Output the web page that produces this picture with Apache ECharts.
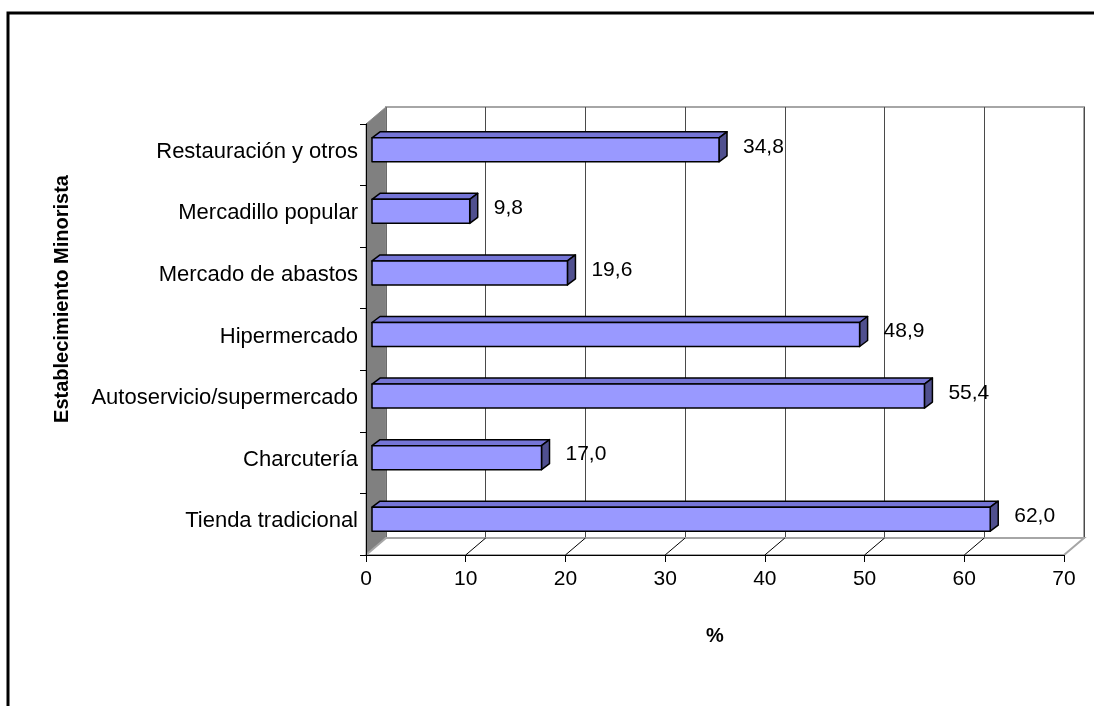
<!DOCTYPE html>
<html>
<head>
<meta charset="utf-8">
<script src="https://cdn.jsdelivr.net/npm/echarts@6/dist/echarts.min.js"></script>
<style>
html, body { margin: 0; padding: 0; background: #fff; }
#chart { width: 1094px; height: 706px; }
</style>
</head>
<body>
<div id="chart"></div>
<script>
// categories bottom -> top, like Excel draws them
const categories = ['Tienda tradicional', 'Charcutería', 'Autoservicio/supermercado', 'Hipermercado', 'Mercado de abastos', 'Mercadillo popular', 'Restauración y otros']
const values = [62.0, 17.0, 55.4, 48.9, 19.6, 9.8, 34.8]
const xTicks = [0, 10, 20, 30, 40, 50, 60, 70]

const FONT = 'Liberation Sans, Arial, sans-serif'
const DEPTH = [20, -17] // back wall offset from the front plane
const BAR_IN = [6, -5] // bar front face sits a bit inside the depth
const BAR_D = [8, -6] // bar thickness
const BAR_H = 24

// side wall + floor
const renderWalls = (params, api) => {
    const r = params.coordSys
    const [dx, dy] = DEPTH
    const b = r.y + r.height
    return {
        type: 'group',
        children: [
            {
                type: 'polygon',
                shape: { points: [[r.x, r.y], [r.x + dx, r.y + dy], [r.x + dx, b + dy], [r.x, b]] },
                style: { fill: '#808080', stroke: '#8c8c8c', lineWidth: 1 },
            },
            {
                type: 'polygon',
                shape: { points: [[r.x, b], [r.x + dx, b + dy], [r.x + r.width + dx, b + dy], [r.x + r.width, b]] },
                style: { fill: '#fff', stroke: '#a6a6a6', lineWidth: 2 },
            },
        ],
    }
}

// diagonal lines on the floor at each tick
const renderFloorTicks = (params, api) => {
    const r = params.coordSys
    const x = api.coord([api.value(0), 0])[0]
    const b = r.y + r.height
    return {
        type: 'line',
        shape: { x1: x, y1: b, x2: x + DEPTH[0], y2: b + DEPTH[1] },
        style: { stroke: '#000', lineWidth: 1 },
    }
}

// 3d bar: top face, end face, front face, label
const renderBar = (params, api) => {
    const v = api.value(0)
    const i = api.value(1)
    const start = api.coord([0, i])
    const end = api.coord([v, i])
    const yc = start[1] + BAR_IN[1]
    const x0 = start[0] + BAR_IN[0]
    const x1 = end[0] + BAR_IN[0]
    const yt = yc - BAR_H / 2
    const yb = yc + BAR_H / 2
    const [dx, dy] = BAR_D
    const line = { stroke: '#000', lineWidth: 1.5, lineJoin: 'round' }
    return {
        type: 'group',
        children: [
            {
                type: 'polygon',
                shape: { points: [[x0, yt], [x1, yt], [x1 + dx, yt + dy], [x0 + dx, yt + dy]] },
                style: { fill: '#7575d6', ...line },
            },
            {
                type: 'polygon',
                shape: { points: [[x1, yt], [x1 + dx, yt + dy], [x1 + dx, yb + dy], [x1, yb]] },
                style: { fill: '#50508f', ...line },
            },
            {
                type: 'rect',
                shape: { x: x0, y: yt, width: x1 - x0, height: BAR_H },
                style: { fill: '#9999ff', ...line },
            },
            {
                type: 'text',
                x: x1 + dx + 16,
                y: yc - 3,
                style: {
                    text: v.toFixed(1).replace('.', ','),
                    fill: '#000',
                    fontSize: 21,
                    fontFamily: FONT,
                    align: 'left',
                    verticalAlign: 'middle',
                },
            },
        ],
    }
}

var myChart = echarts.init(document.getElementById('chart'))
var option = {
    backgroundColor: '#fff',
    animation: false,
    textStyle: { fontFamily: FONT },
    grid: [
        // front plane
        { left: 366, top: 124, width: 698, height: 431 },
        // back wall
        {
            left: 386,
            top: 107,
            width: 698,
            height: 431,
            show: true,
            backgroundColor: '#fff',
            borderColor: '#a6a6a6',
            borderWidth: 2,
        },
    ],
    xAxis: [
        {
            type: 'value',
            gridIndex: 0,
            min: 0,
            max: 70,
            interval: 10,
            z: 10,
            axisLine: { show: true, lineStyle: { color: '#000', width: 1 } },
            axisTick: { show: true, length: 7, lineStyle: { color: '#000' } },
            axisLabel: { color: '#000', fontSize: 21, margin: 14, fontFamily: FONT },
            splitLine: { show: false },
            name: '%',
            nameLocation: 'middle',
            nameGap: 71,
            nameTextStyle: { color: '#000', fontSize: 20, fontWeight: 'bold', fontFamily: FONT },
        },
        {
            type: 'value',
            gridIndex: 1,
            min: 0,
            max: 70,
            interval: 10,
            axisLine: { show: false },
            axisTick: { show: false },
            axisLabel: { show: false },
            splitLine: { show: true, lineStyle: { color: '#4a4a4a', width: 1 } },
        },
    ],
    yAxis: [
        {
            type: 'category',
            gridIndex: 0,
            data: categories,
            z: 10,
            axisLine: { show: true, lineStyle: { color: '#000', width: 1 } },
            axisTick: { show: true, length: 6, lineStyle: { color: '#000' } },
            axisLabel: {
                color: '#000',
                fontSize: 22,
                margin: 8,
                fontFamily: FONT,
                verticalAlign: 'bottom',
                lineHeight: 6,
            },
        },
        { type: 'value', gridIndex: 1, min: 0, max: 1, show: false },
    ],
    graphic: [
        {
            type: 'rect',
            z: 100,
            shape: { x: 8, y: 13, width: 1100, height: 720 },
            style: { fill: 'none', stroke: '#000', lineWidth: 3 },
        },
        {
            type: 'text',
            x: 62,
            y: 299,
            rotation: Math.PI / 2,
            style: {
                text: 'Establecimiento Minorista',
                fill: '#000',
                fontSize: 20,
                fontWeight: 'bold',
                fontFamily: FONT,
                align: 'center',
                verticalAlign: 'middle',
            },
        },
    ],
    series: [
        {
            type: 'custom',
            xAxisIndex: 0,
            yAxisIndex: 0,
            z: 1,
            silent: true,
            renderItem: renderWalls,
            data: [[0, 0]],
        },
        {
            type: 'custom',
            xAxisIndex: 0,
            yAxisIndex: 0,
            z: 1,
            silent: true,
            renderItem: renderFloorTicks,
            data: xTicks.slice(1, -1).map(t => [t, 0]),
        },
        {
            type: 'custom',
            xAxisIndex: 0,
            yAxisIndex: 0,
            z: 3,
            renderItem: renderBar,
            encode: { x: 0, y: 1 },
            data: values.map((v, i) => [v, i]),
        },
    ],
}
myChart.setOption(option)
</script>
</body>
</html>
